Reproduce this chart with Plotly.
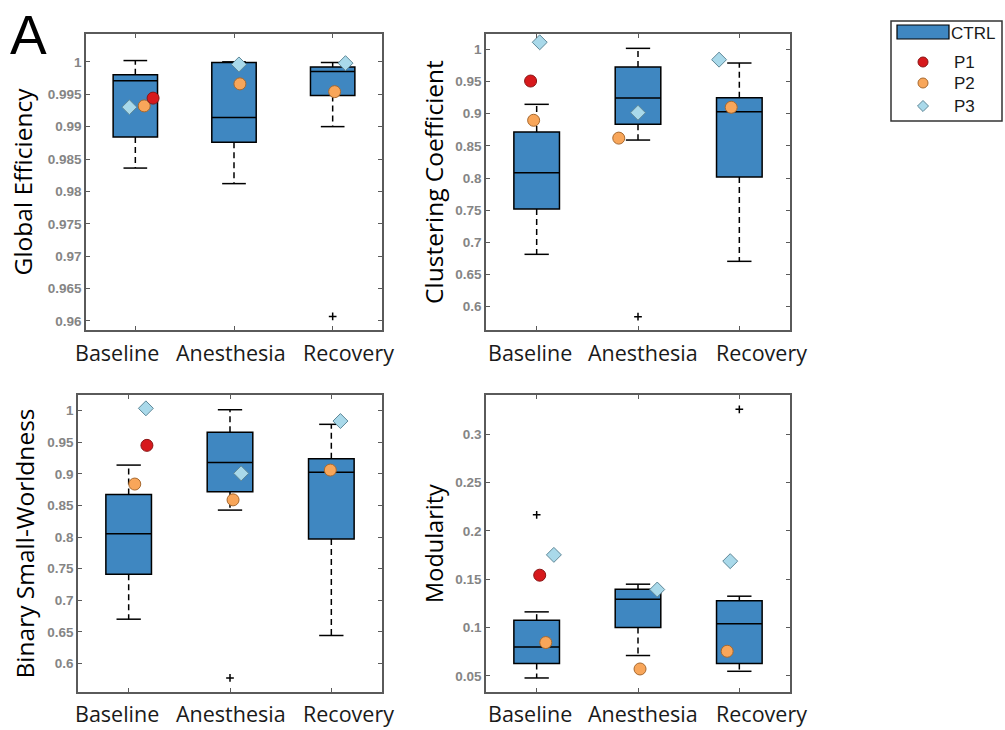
import plotly.graph_objects as go

W, H = 1005, 730

categories = ["Baseline", "Anesthesia", "Recovery"]
cat_pos = [1, 2, 3]

# ---- Global Efficiency ----
ge_q1 = [0.9884, 0.9876, 0.9948]
ge_median = [0.9971, 0.9914, 0.9985]
ge_q3 = [0.9980, 0.9999, 0.9992]
ge_lower = [0.9836, 0.9812, 0.9900]
ge_upper = [1.0002, 1.0000, 0.9999]
ge_outlier_cat = [3]
ge_outlier_val = [0.9607]
ge_p1 = [0.9944, None, None]
ge_p2 = [0.9932, 0.9966, 0.9954]
ge_p3 = [0.9930, 0.9996, 0.9998]

# ---- Clustering Coefficient ----
cc_q1 = [0.7518, 0.8834, 0.8015]
cc_median = [0.8082, 0.9243, 0.9030]
cc_q3 = [0.8715, 0.9725, 0.9248]
cc_lower = [0.6814, 0.8590, 0.6705]
cc_upper = [0.9145, 1.0015, 0.9787]
cc_outlier_cat = [2]
cc_outlier_val = [0.5845]
cc_p1 = [0.9507, None, None]
cc_p2 = [0.8897, 0.8620, 0.9099]
cc_p3 = [1.0109, 0.9015, 0.9839]

# ---- Binary Small-Worldness ----
sw_q1 = [0.7414, 0.8718, 0.7969]
sw_median = [0.8053, 0.9183, 0.9025]
sw_q3 = [0.8676, 0.9658, 0.9240]
sw_lower = [0.6702, 0.8428, 0.6444]
sw_upper = [0.9140, 1.0016, 0.9785]
sw_outlier_cat = [2]
sw_outlier_val = [0.5773]
sw_p1 = [0.9452, None, None]
sw_p2 = [0.8840, 0.8590, 0.9061]
sw_p3 = [1.0038, 0.9009, 0.9837]

# ---- Modularity ----
mo_q1 = [0.0628, 0.1000, 0.0628]
mo_median = [0.0800, 0.1293, 0.1038]
mo_q3 = [0.1076, 0.1397, 0.1276]
mo_lower = [0.0479, 0.0711, 0.0548]
mo_upper = [0.1162, 0.1448, 0.1324]
mo_outlier_cat = [1, 3]
mo_outlier_val = [0.2165, 0.3255]
mo_p1 = [0.1541, None, None]
mo_p2 = [0.0845, 0.0572, 0.0755]
mo_p3 = [0.1751, 0.1393, 0.1686]

# horizontal scatter of the patient markers around each category
jitter = {
    "ge": {"p1": [0.18, 0, 0], "p2": [0.09, 0.06, 0.02], "p3": [-0.06, 0.05, 0.13]},
    "cc": {"p1": [-0.06, 0, 0], "p2": [-0.03, -0.19, -0.08], "p3": [0.03, 0.0, -0.20]},
    "sw": {"p1": [0.18, 0, 0], "p2": [0.06, 0.03, -0.01], "p3": [0.17, 0.11, 0.09]},
    "mo": {"p1": [0.03, 0, 0], "p2": [0.09, 0.02, -0.12], "p3": [0.17, 0.19, -0.09]},
}

BOX_FILL = "#3F87C1"
P1_STYLE = dict(symbol="circle", size=12, color="#D7191C", line=dict(color="#8A1515", width=1))
P2_STYLE = dict(symbol="circle", size=12, color="#F8A65A", line=dict(color="#A8692E", width=1))
P3_STYLE = dict(symbol="diamond", size=11.5, color="#A9D9EA", line=dict(color="#5F8898", width=1))

AXIS_GRAY = "#5A5A5A"
TICK_GRAY = "#858585"
TEXT_FONT = "Open Sans"

# category label centres (pixels) under each panel
label_x_left = [117, 231, 348]
label_x_right = [530, 643, 761.5]

panels = [
    dict(key="ge", title="Global Efficiency", q1=ge_q1, med=ge_median, q3=ge_q3, lo=ge_lower, hi=ge_upper,
         oc=ge_outlier_cat, ov=ge_outlier_val, p1=ge_p1, p2=ge_p2, p3=ge_p3,
         yr=[0.9586, 1.0043],
         ticks=[0.96, 0.965, 0.97, 0.975, 0.98, 0.985, 0.99, 0.995, 1.0],
         ticktext=["0.96", "0.965", "0.97", "0.975", "0.98", "0.985", "0.99", "0.995", "1"],
         px=(86, 382), py=(34, 330), title_size=24.5, standoff=8,
         labels_x=label_x_left, labels_y=352),
    dict(key="cc", title="Clustering Coefficient", q1=cc_q1, med=cc_median, q3=cc_q3, lo=cc_lower, hi=cc_upper,
         oc=cc_outlier_cat, ov=cc_outlier_val, p1=cc_p1, p2=cc_p2, p3=cc_p3,
         yr=[0.5638, 1.0238],
         ticks=[0.6, 0.65, 0.7, 0.75, 0.8, 0.85, 0.9, 0.95, 1.0],
         ticktext=["0.6", "0.65", "0.7", "0.75", "0.8", "0.85", "0.9", "0.95", "1"],
         px=(486, 790), py=(34, 330), title_size=24.5, standoff=5,
         labels_x=label_x_right, labels_y=352),
    dict(key="sw", title="Binary Small-Worldness", q1=sw_q1, med=sw_median, q3=sw_q3, lo=sw_lower, hi=sw_upper,
         oc=sw_outlier_cat, ov=sw_outlier_val, p1=sw_p1, p2=sw_p2, p3=sw_p3,
         yr=[0.555, 1.0249],
         ticks=[0.6, 0.65, 0.7, 0.75, 0.8, 0.85, 0.9, 0.95, 1.0],
         ticktext=["0.6", "0.65", "0.7", "0.75", "0.8", "0.85", "0.9", "0.95", "1"],
         px=(78, 382), py=(395, 692), title_size=24.5, standoff=6,
         labels_x=label_x_left, labels_y=713),
    dict(key="mo", title="Modularity", q1=mo_q1, med=mo_median, q3=mo_q3, lo=mo_lower, hi=mo_upper,
         oc=mo_outlier_cat, ov=mo_outlier_val, p1=mo_p1, p2=mo_p2, p3=mo_p3,
         yr=[0.0334, 0.3403],
         ticks=[0.05, 0.1, 0.15, 0.2, 0.25, 0.3],
         ticktext=["0.05", "0.1", "0.15", "0.2", "0.25", "0.3"],
         px=(486, 790), py=(395, 692), title_size=23.5, standoff=5,
         labels_x=label_x_right, labels_y=713),
]

BOX_W = 0.45
CAP_HALF = 0.12

fig = go.Figure()
layout = dict(
    width=W, height=H,
    margin=dict(l=0, r=0, t=0, b=0),
    paper_bgcolor="white", plot_bgcolor="rgba(0,0,0,0)",
    showlegend=False,
    annotations=[], shapes=[],
)

for i, p in enumerate(panels, start=1):
    xa = "x" if i == 1 else f"x{i}"
    ya = "y" if i == 1 else f"y{i}"
    xname = "xaxis" if i == 1 else f"xaxis{i}"
    yname = "yaxis" if i == 1 else f"yaxis{i}"

    # box body (q1, median, q3); whiskers are drawn separately as dashed lines
    fig.add_trace(go.Box(
        x=cat_pos, q1=p["q1"], median=p["med"], q3=p["q3"],
        lowerfence=p["q1"], upperfence=p["q3"],
        width=BOX_W, whiskerwidth=0, boxpoints=False,
        fillcolor=BOX_FILL, line=dict(color="black", width=1.5),
        xaxis=xa, yaxis=ya, hoverinfo="skip",
    ))

    # dashed whiskers with solid caps
    wx, wy = [], []
    cx, cy = [], []
    for c, lo, q1, q3, hi in zip(cat_pos, p["lo"], p["q1"], p["q3"], p["hi"]):
        wx += [c, c, None, c, c, None]
        wy += [q3, hi, None, q1, lo, None]
        cx += [c - CAP_HALF, c + CAP_HALF, None, c - CAP_HALF, c + CAP_HALF, None]
        cy += [hi, hi, None, lo, lo, None]
    fig.add_trace(go.Scatter(x=wx, y=wy, mode="lines", xaxis=xa, yaxis=ya,
                             line=dict(color="black", width=1.5, dash="6px,4px"), hoverinfo="skip"))
    fig.add_trace(go.Scatter(x=cx, y=cy, mode="lines", xaxis=xa, yaxis=ya,
                             line=dict(color="black", width=1.5), hoverinfo="skip"))

    # outliers
    fig.add_trace(go.Scatter(x=p["oc"], y=p["ov"], mode="markers", xaxis=xa, yaxis=ya,
                             marker=dict(symbol="cross-thin", size=5.5, color="black",
                                         line=dict(color="black", width=1.5)), hoverinfo="skip"))

    # patients
    jit = jitter[p["key"]]
    for name, vals, style in (("P3", p["p3"], P3_STYLE), ("P2", p["p2"], P2_STYLE), ("P1", p["p1"], P1_STYLE)):
        offs = jit[name.lower()]
        xs = [c + o for c, o, v in zip(cat_pos, offs, vals) if v is not None]
        ys = [v for v in vals if v is not None]
        fig.add_trace(go.Scatter(x=xs, y=ys, mode="markers", name=name, xaxis=xa, yaxis=ya,
                                 marker=style, hoverinfo="skip"))

    x0, x1 = p["px"]
    y0, y1 = p["py"]
    layout[xname] = dict(
        domain=[x0 / W, x1 / W], anchor=ya, range=[0.5, 3.5],
        tickmode="array", tickvals=cat_pos, showticklabels=False,
        showline=True, linecolor=AXIS_GRAY, linewidth=1.5, mirror="allticks",
        ticks="inside", ticklen=4, tickcolor=AXIS_GRAY, tickwidth=1.2,
        showgrid=False, zeroline=False,
    )
    layout[yname] = dict(
        domain=[1 - y1 / H, 1 - y0 / H], anchor=xa, range=p["yr"],
        tickmode="array", tickvals=p["ticks"], ticktext=p["ticktext"],
        tickfont=dict(family="Arial", size=13.5, color=TICK_GRAY, weight="bold"),
        showline=True, linecolor=AXIS_GRAY, linewidth=1.5, mirror="allticks",
        ticks="inside", ticklen=4, tickcolor=AXIS_GRAY, tickwidth=1.2,
        showgrid=False, zeroline=False,
        title=dict(text=p["title"], standoff=p["standoff"],
                   font=dict(family=TEXT_FONT, size=p["title_size"], color="black")),
    )
    # category names under the axis
    for cname, lx in zip(categories, p["labels_x"]):
        layout["annotations"].append(dict(
            text=cname, x=lx / W, y=1 - p["labels_y"] / H, xref="paper", yref="paper",
            xanchor="center", yanchor="middle", showarrow=False,
            font=dict(family=TEXT_FONT, size=21.5, color="#1a1a1a"),
        ))

# panel letter
layout["annotations"].append(dict(
    text="A", x=8 / W, y=1 - 2 / H, xref="paper", yref="paper",
    xanchor="left", yanchor="top", showarrow=False,
    font=dict(family="Arial", size=55, color="black"),
))

# legend drawn on an overlay axis measured in pixels
layout["xaxis5"] = dict(domain=[0, 1], range=[0, W], visible=False, fixedrange=True, anchor="y5")
layout["yaxis5"] = dict(domain=[0, 1], range=[H, 0], visible=False, fixedrange=True, anchor="x5")
layout["shapes"].append(dict(type="rect", xref="x5", yref="y5", x0=891, x1=1002, y0=21, y1=121,
                             line=dict(color="#333333", width=1.5), fillcolor="white", layer="below"))
layout["shapes"].append(dict(type="rect", xref="x5", yref="y5", x0=897, x1=949, y0=25, y1=39,
                             line=dict(color="black", width=1.2), fillcolor=BOX_FILL))
legend_rows = [("P1", P1_STYLE, 62, 10), ("P2", P2_STYLE, 83, 10), ("P3", P3_STYLE, 106, 8.5)]
for name, style, yy, sz in legend_rows:
    st = dict(style)
    st["size"] = sz
    fig.add_trace(go.Scatter(x=[923], y=[yy], mode="markers", xaxis="x5", yaxis="y5",
                             marker=st, hoverinfo="skip"))
    layout["annotations"].append(dict(text=name, x=952, y=yy, xref="x5", yref="y5",
                                      xanchor="left", yanchor="middle", showarrow=False,
                                      font=dict(family="Arial", size=17, color="#1a1a1a")))
layout["annotations"].append(dict(text="CTRL", x=949, y=33, xref="x5", yref="y5",
                                  xanchor="left", yanchor="middle", showarrow=False,
                                  font=dict(family="Arial", size=17, color="#1a1a1a")))

fig.update_layout(**layout)
fig.write_html("out.html")
